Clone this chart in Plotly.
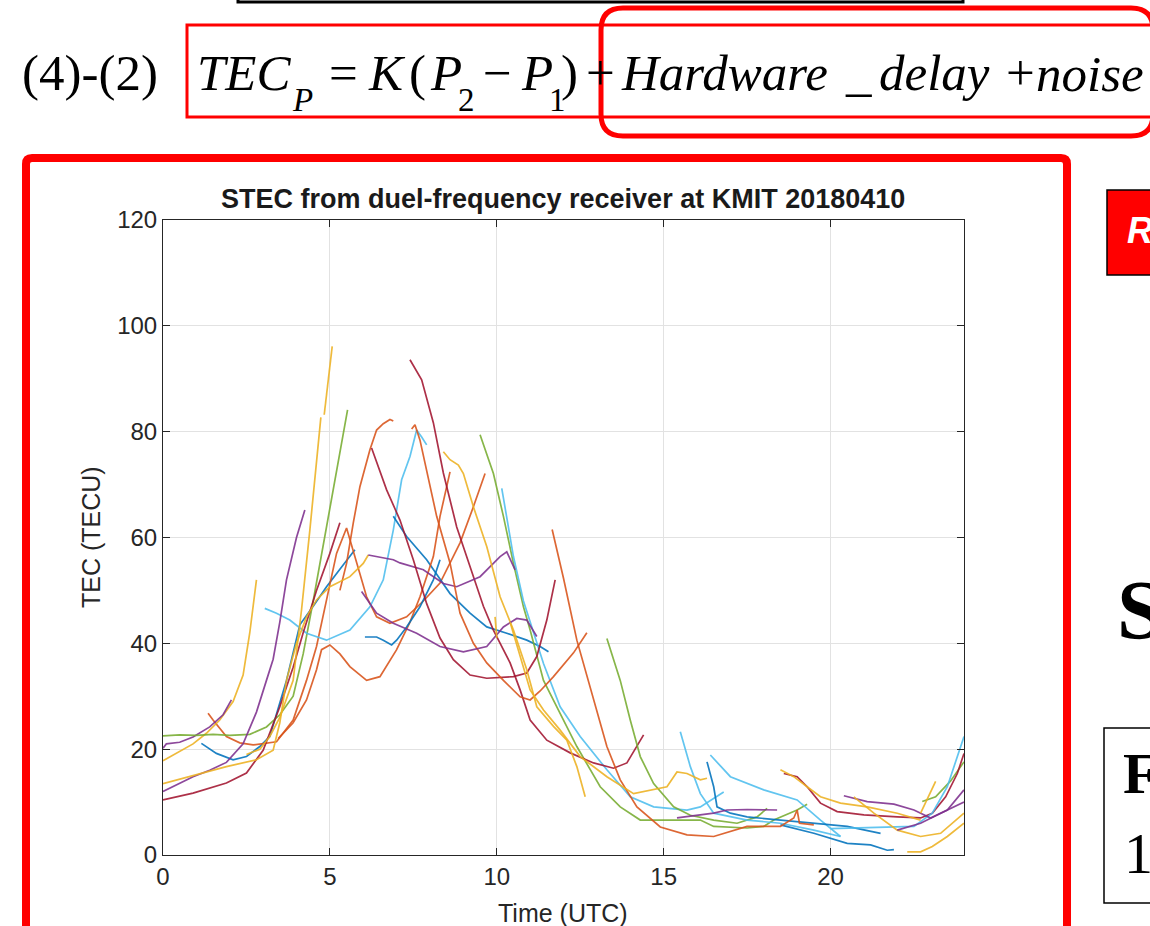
import plotly.graph_objects as go

W, H = 1150, 926

# ---------------- data (hours UTC, TECU) ----------------
BLUE, ORANGE, YELLOW, PURPLE = "#0072BD", "#D95319", "#EDB120", "#7E2F8E"
GREEN, LBLUE, DRED = "#77AC30", "#4DBEEE", "#A2142F"

g1_t = [0, 0.5, 1.0, 1.5, 2.0, 2.6, 3.1, 3.5, 3.9, 4.2, 4.5, 4.9, 5.2, 5.53]
g1_v = [22.5, 22.7, 22.6, 22.8, 22.6, 22.8, 24.2, 26.5, 30, 38, 48, 62, 72.5, 84.1]
p1_t = [0, 0.1, 0.5, 0.9, 1.4, 1.8, 2.05]
p1_v = [20.2, 21, 21.3, 22.3, 24.2, 26.5, 29.3]
y1_t = [0, 0.5, 0.9, 1.3, 1.7, 2.1, 2.4, 2.6, 2.8]
y1_v = [17.8, 19.5, 21, 23, 25.5, 29, 34, 42, 52]
p2_t = [0, 0.5, 0.9, 1.4, 1.9, 2.4, 2.8, 3.1, 3.3, 3.5, 3.7, 4.0, 4.25]
p2_v = [12, 13.5, 14.8, 16, 17.5, 21, 27, 33, 37, 44, 52, 60, 65.2]
y4_t = [0, 0.9, 1.9, 2.8, 3.3, 3.5, 3.7, 4.0, 4.3, 4.6, 5.0, 5.6, 6.0, 6.15]
y4_v = [13.5, 15, 16.7, 18, 19.8, 25, 33, 40, 45, 48.2, 50.7, 52.6, 55.1, 56.7]
y2_t = [2.5, 2.9, 3.2, 3.5, 3.9, 4.15, 4.4, 4.6, 4.73, None, 4.83, 4.95, 5.07]
y2_v = [19, 20, 22.4, 26, 33, 46.3, 61.4, 75, 82.7, None, 83.2, 90, 96.1]
b1_t = [1.15, 1.6, 2.1, 2.5, 2.9, 3.2, 3.7, 4.1, 4.5, 4.9, 5.3, 5.75]
b1_v = [21.1, 19.2, 18, 18.6, 20.5, 22.4, 33, 43.5, 47, 50.7, 54, 57.7]
d1_t = [0, 0.9, 1.9, 2.5, 3.0, 3.5, 3.9, 4.2, 4.6, 5.0, 5.3]
d1_v = [10.4, 11.7, 13.6, 15.5, 19.8, 28, 35.5, 42, 50, 57, 62.8]
o1_t = [1.35, 1.5, 1.9, 2.3, 2.7, 3.2, 3.4, 3.9, 4.3, 4.6, 4.9, 5.2, 5.5, 5.8,
        6.1, 6.4, 6.8, 7.3, 7.8, 8.3, 8.9, 9.3, 9.65]
o1_v = [26.8, 25.5, 22.4, 21.2, 20.8, 21.2, 21.4, 25.5, 33, 39.4, 48, 57, 61.8, 55.2,
        48.8, 45, 43.8, 45, 48, 51.4, 59, 65.8, 72.1]
o2_t = [3.45, 3.9, 4.3, 4.6, 4.75, 5.0, 5.3, 5.6, 6.1, 6.5, 7.0, 7.4, 7.7, 8.1, 8.3, 8.6]
o2_v = [22, 25, 29.3, 35, 38.8, 39.7, 38, 35.6, 33, 33.7, 38.8, 44, 48.8, 56.4, 64, 72.4]
o3_t = [5.3, 5.5, 5.7, 5.9, 6.2, 6.4, 6.6, 6.8, 6.9]
o3_v = [50, 55.1, 62.7, 69.6, 76.6, 80.3, 81.5, 82.3, 82]
o4_t = [7.45, 7.55, 7.7, 7.9, 8.2, 8.6, 8.9, 9.3, 9.7, 10.2, 10.7, 11.0, 11.3, 11.7, 12.3, 12.7]
o4_v = [80.5, 81.3, 78.4, 72.8, 64, 55.2, 45.7, 40, 36.3, 33, 29.9, 29.3, 31, 33.7, 38.2, 42]
o5_t = [11.66, 12.0, 12.4, 12.9, 13.3, 13.7, 14.2, 14.9, 15.7, 16.5, 17.5, 18.5, 18.9, 19.0, 19.07, 19.5]
o5_v = [61.5, 52.3, 40.6, 29.3, 20.5, 14.2, 9.1, 5.3, 3.8, 3.5, 5.4, 5.4, 7, 8.5, 6, 5.7]
d2_t = [7.4, 7.75, 8.1, 8.4, 8.8, 9.2, 9.6, 9.9, 10.4, 10.7, 11.0, 11.5, 12.2, 12.9, 13.5, 13.9, 14.4]
d2_v = [93.6, 89.8, 81.7, 72.2, 62, 54.5, 47, 42.5, 36.3, 31.2, 25.5, 21.7, 19.3, 17.4, 16.4, 17.4, 22.7]
d3_t = [6.25, 6.7, 7.1, 7.5, 7.9, 8.3, 8.7, 9.2, 9.7, 10.5, 10.9, 11.2, 11.5, 11.75]
d3_v = [76.9, 69, 63.3, 55.8, 47.5, 41, 36.9, 34, 33.4, 33.7, 34.4, 37.5, 44.4, 52]
d5_t = [18.6, 19.0, 19.3, 19.7, 20.2, 21.0, 22.0, 22.7, 23.05, 23.45, 23.8, 24.0]
d5_v = [15.4, 14.8, 12.9, 9.8, 8.2, 7.6, 7.2, 7.0, 7.9, 11, 15.4, 19.2]
p3_t = [6.15, 6.9, 7.1, 7.8, 8.4, 8.8, 9.5, 10.1, 10.3, 10.55]
p3_v = [56.7, 55.8, 55.2, 53.9, 51.3, 50.7, 52.6, 56.4, 57.3, 53.9]
p4_t = [5.95, 6.4, 6.9, 7.6, 8.3, 9.0, 9.7, 10.2, 10.6, 10.9, 11.2]
p4_v = [49.8, 45.7, 43.8, 41.9, 39.4, 38.4, 39.4, 43.1, 44.7, 44.4, 41.3]
p5_t = [15.4, 16.0, 16.5, 16.9, 17.5, 18.4]
p5_v = [7.0, 7.5, 7.9, 8.5, 8.6, 8.5]
p6_t = [20.4, 21.1, 21.9, 22.5, 23.0, 23.5, 24.0]
p6_v = [11.2, 10.1, 9.6, 8.5, 7, 8.5, 12.3]
p7_t = [22.0, 22.7, 23.3, 24.0]
p7_v = [4.7, 6, 7.9, 10]
g2_t = [9.5, 9.9, 10.2, 10.5, 10.8, 11.0, 11.4, 11.9, 12.4, 13.1, 13.7, 14.3, 15.1,
        16.1, 16.5, 17.5, 18.0, 18.3, 19.0, 19.3]
g2_v = [79.4, 72.1, 64, 55.1, 46.9, 42.5, 33, 26.8, 20.5, 12.9, 9.1, 6.6, 6.6,
        6.6, 5.4, 5.1, 5.4, 6.6, 8.5, 9.6]
g3_t = [13.3, 13.7, 14.0, 14.3, 14.7, 15.3, 15.8, 16.5, 17.2, 17.8, 18.1]
g3_v = [40.9, 33, 25.5, 18.6, 13.5, 9.1, 7.5, 6.6, 6, 7.2, 8.8]
g5_t = [22.75, 23.15, 23.6, 24.0]
g5_v = [10.1, 11, 14, 17.6]
lb1_t = [10.15, 10.3, 10.5, 10.8, 11.1, 11.4, 11.9, 12.5, 13.3, 14.0, 14.7, 15.7, 16.1, 16.6, 16.8]
lb1_v = [69.3, 64, 56.4, 48, 42, 36.2, 28, 22.4, 16.1, 11, 9.1, 8.5, 9.1, 11, 11.9]
lb2_t = [16.4, 17.0, 18.0, 19.0, 19.7, 20.3]
lb2_v = [18.9, 14.8, 12.3, 10.4, 6.6, 3.5]
lb3_t = [15.5, 15.8, 16.1, 16.5, 17.5, 18.5, 19.5, 20.3]
lb3_v = [23.3, 16.7, 11.6, 7.9, 6.6, 6, 4.7, 3.5]
lb5_t = [20.0, 21.0, 22.0, 22.5, 23.05, 23.5, 24.0]
lb5_v = [5, 5.2, 5.3, 5.4, 7.9, 12.9, 22.4]
lb6_t = [3.05, 3.4, 3.8, 4.3, 4.9, 5.6, 6.2, 6.6, 6.9, 7.15, 7.4, 7.6, 7.75, 7.9]
lb6_v = [46.6, 45.7, 44.4, 41.9, 40.6, 42.5, 46.9, 52, 61.4, 70.9, 75.3, 80.3, 79, 77.5]
b2_t = [6.9, 7.3, 7.9, 8.6, 9.2, 9.7, 10.3, 10.9, 11.3, 11.55]
b2_v = [64, 60.2, 55.8, 49.4, 45.7, 43.1, 41.9, 40.6, 39.4, 38.4]
b3_t = [6.05, 6.4, 6.6, 6.85, 7.0, 7.3, 7.7, 8.1, 8.3]
b3_v = [41.2, 41.2, 40.6, 39.7, 40.6, 43.1, 46.9, 52, 55.8]
b4_t = [16.3, 16.5, 16.6, 17.0, 17.5, 18.5, 19.5, 20.5, 21.5]
b4_v = [17.6, 12.9, 9.1, 7.9, 7.2, 6.6, 6, 5.4, 4.1]
b5_t = [18.5, 19.5, 20.5, 21.2, 21.7, 21.9]
b5_v = [5.7, 4.1, 2.2, 1.9, 0.9, 1]
y5_t = [8.4, 8.6, 8.85, 9.0, 9.3, 9.7, 10.1, 10.5, 10.9, 11.2, 11.7, 12.1, 12.4, 12.65]
y5_v = [76.2, 74.7, 73.7, 72.1, 65.8, 58.3, 48.8, 42.5, 35, 28, 24.3, 21.7, 16.7, 11]
y7_t = [10.4, 10.7, 11.0, 11.4, 11.9, 12.5, 13.3, 14.1, 14.7, 15.1, 15.4, 15.7, 16.1, 16.3]
y7_v = [44, 37.5, 31.2, 27.4, 23.6, 18.6, 14.8, 11.6, 12.3, 12.9, 15.7, 15.4, 14.2, 14.5]
y8_t = [18.5, 18.9, 19.3, 19.7, 20.3, 21.1, 22.0, 22.7]
y8_v = [16.1, 14.8, 12.9, 11, 9.8, 9.1, 7.9, 6.6]
y9_t = [20.7, 21.3, 22.0, 22.7, 23.3, 24.0]
y9_v = [11, 7.9, 4.7, 3.5, 4.1, 7.9]
y10_t = [22.3, 22.7, 23.05, 23.5, 24.0]
y10_v = [0.6, 0.6, 1.6, 3.5, 6]
y11_t = [22.7, 22.9, 23.15]
y11_v = [7.9, 10.5, 13.9]
y12_t = [9.95, 10.0]
y12_v = [45, 41]

series = [
    (BLUE, b1_t, b1_v), (ORANGE, o1_t, o1_v), (YELLOW, y1_t, y1_v), (PURPLE, p1_t, p1_v),
    (GREEN, g1_t, g1_v), (LBLUE, lb6_t, lb6_v), (DRED, d1_t, d1_v),
    (BLUE, b2_t, b2_v), (ORANGE, o2_t, o2_v), (YELLOW, y2_t, y2_v), (PURPLE, p2_t, p2_v),
    (GREEN, g2_t, g2_v), (LBLUE, lb1_t, lb1_v), (DRED, d2_t, d2_v),
    (BLUE, b3_t, b3_v), (ORANGE, o3_t, o3_v), (YELLOW, y4_t, y4_v), (PURPLE, p3_t, p3_v),
    (GREEN, g3_t, g3_v), (LBLUE, lb2_t, lb2_v), (DRED, d3_t, d3_v),
    (BLUE, b4_t, b4_v), (ORANGE, o4_t, o4_v), (YELLOW, y5_t, y5_v), (PURPLE, p4_t, p4_v),
    (GREEN, g5_t, g5_v), (LBLUE, lb3_t, lb3_v), (DRED, d5_t, d5_v),
    (BLUE, b5_t, b5_v), (ORANGE, o5_t, o5_v), (YELLOW, y7_t, y7_v), (PURPLE, p5_t, p5_v),
    (LBLUE, lb5_t, lb5_v), (YELLOW, y8_t, y8_v), (PURPLE, p6_t, p6_v),
    (YELLOW, y9_t, y9_v), (PURPLE, p7_t, p7_v), (YELLOW, y10_t, y10_v),
    (YELLOW, y11_t, y11_v), (YELLOW, y12_t, y12_v),
]

x_ticks = [0, 5, 10, 15, 20]
y_ticks = [0, 20, 40, 60, 80, 100, 120]

# ---------------- figure ----------------
fig = go.Figure()
for col, t, v in series:
    fig.add_trace(go.Scatter(x=t, y=v, mode="lines", line=dict(color=col, width=1.7),
                             opacity=0.88, connectgaps=False, showlegend=False,
                             hoverinfo="skip"))


def px(x):
    return x / W


def py(y):
    return 1 - y / H


SANS = "Liberation Sans, Arial, Helvetica, sans-serif"
SERIF = "Liberation Serif, Times New Roman, serif"
AX = "#262626"

fig.update_layout(
    width=W, height=H, autosize=False,
    margin=dict(l=0, r=0, t=0, b=0),
    paper_bgcolor="white", plot_bgcolor="rgba(0,0,0,0)",
    xaxis=dict(domain=[px(163), px(964)], range=[0, 24], tickvals=x_ticks, automargin=False,
               showgrid=True, gridcolor="#e2e2e2", gridwidth=1, zeroline=False,
               showline=True, linecolor=AX, linewidth=1, mirror="ticks",
               ticks="inside", ticklen=7, tickcolor=AX,
               tickfont=dict(family=SANS, size=24, color=AX)),
    yaxis=dict(domain=[py(855), py(220)], range=[0, 120], tickvals=y_ticks, automargin=False,
               showgrid=True, gridcolor="#e2e2e2", gridwidth=1, zeroline=False,
               showline=True, linecolor=AX, linewidth=1, mirror="ticks",
               ticks="inside", ticklen=7, tickcolor=AX,
               tickfont=dict(family=SANS, size=24, color=AX)),
    # full-page overlay (pixel space) used only for text that is cut by the page edge
    xaxis2=dict(domain=[0, 1], range=[0, W], visible=False, anchor="y2", automargin=False),
    yaxis2=dict(domain=[0, 1], range=[H, 0], visible=False, anchor="x2", automargin=False),
)


def rrect_path(x0, y0, x1, y1, r):
    pts = [
        ("M", [(x0 + r, y0)]), ("L", [(x1 - r, y0)]), ("Q", [(x1, y0), (x1, y0 + r)]),
        ("L", [(x1, y1 - r)]), ("Q", [(x1, y1), (x1 - r, y1)]),
        ("L", [(x0 + r, y1)]), ("Q", [(x0, y1), (x0, y1 - r)]),
        ("L", [(x0, y0 + r)]), ("Q", [(x0, y0), (x0 + r, y0)]),
    ]
    s = ""
    for cmd, ps in pts:
        s += cmd + " " + " ".join(f"{px(a):.5f},{py(b):.5f}" for a, b in ps) + " "
    return s + "Z"


shapes = [
    dict(type="rect", xref="paper", yref="paper", x0=px(238), x1=px(963), y0=py(2), y1=py(-30),
         line=dict(color="black", width=3)),
    dict(type="rect", xref="paper", yref="paper", x0=px(187), x1=px(1170), y0=py(117), y1=py(25),
         line=dict(color="#ff0000", width=3)),
    dict(type="path", xref="paper", yref="paper", path=rrect_path(601, 8, 1153, 136, 22),
         line=dict(color="#ff0000", width=5)),
    dict(type="path", xref="paper", yref="paper", path=rrect_path(26, 158, 1067, 990, 6),
         line=dict(color="#ff0000", width=8)),
    dict(type="rect", xref="paper", yref="paper", x0=px(1107), x1=px(1170), y0=py(275), y1=py(190),
         fillcolor="#ff0000", line=dict(color="black", width=1.5), layer="below"),
    dict(type="rect", xref="paper", yref="paper", x0=px(1104), x1=px(1170), y0=py(903), y1=py(728),
         line=dict(color="black", width=1.5)),
]
fig.update_layout(shapes=shapes)

ann = []


def txt(s, x, y, size, family=SERIF, color="black", xanchor="left", yanchor="middle", angle=0):
    ann.append(dict(text=s, x=px(x), y=py(y), xref="paper", yref="paper", showarrow=False,
                    xanchor=xanchor, yanchor=yanchor, textangle=angle,
                    font=dict(family=family, size=size, color=color)))


EQ = 51
SUB = 33
YM = 73
YS = 100
txt("(4)-(2)", 20, YM, EQ)
txt("<i>TEC</i>", 195, YM, EQ)
txt("<i>P</i>", 290, YS, SUB)
txt("=", 327, YM, EQ)
txt("<i>K</i>", 366, YM, EQ)
txt("(", 407, YM, EQ)
txt("<i>P</i>", 428, YM, EQ)
txt("2", 456, YS, SUB)
txt("\u2212", 481, YM, EQ)
txt("<i>P</i>", 519, YM, EQ)
txt("1", 547, YS, SUB)
txt(")", 559, YM, EQ)
txt("+", 584, YM, EQ)
txt("<i>Hardware</i>", 619, YM, EQ)
txt("<i>_</i>", 843, YM, EQ)
txt("<i>delay</i>", 877, YM, EQ)
txt("+", 1004, YM, EQ)

txt("<b>STEC from duel-frequency receiver at KMIT 20180410</b>", 563, 199, 27,
    family=SANS, color="#1a1a1a", xanchor="center")
txt("TEC (TECU)", 91, 537, 25, family=SANS, color=AX, xanchor="center", angle=-90)
txt("Time (UTC)", 563, 913, 25, family=SANS, color=AX, xanchor="center")
fig.update_layout(annotations=ann)

# texts cut by the right page edge (clipped by the overlay axes)
edge_text = ["<i>noise</i>", "<b><i>R</i></b>", "<b>S</b>", "<b>F</b>", "1"]
edge_x = [1036, 1127, 1117, 1123, 1124]
edge_y = [78, 234, 618, 778, 858]
edge_size = [51, 36, 84, 58, 58]
edge_font = [SERIF, SANS, SERIF, SERIF, SERIF]
edge_color = ["black", "white", "black", "black", "black"]
for s, x, y, sz, fam, col in zip(edge_text, edge_x, edge_y, edge_size, edge_font, edge_color):
    fig.add_trace(go.Scatter(x=[x], y=[y], xaxis="x2", yaxis="y2", mode="text", text=[s],
                             textposition="middle right", cliponaxis=True,
                             textfont=dict(family=fam, size=sz, color=col),
                             showlegend=False, hoverinfo="skip"))

fig.write_html("out.html")
